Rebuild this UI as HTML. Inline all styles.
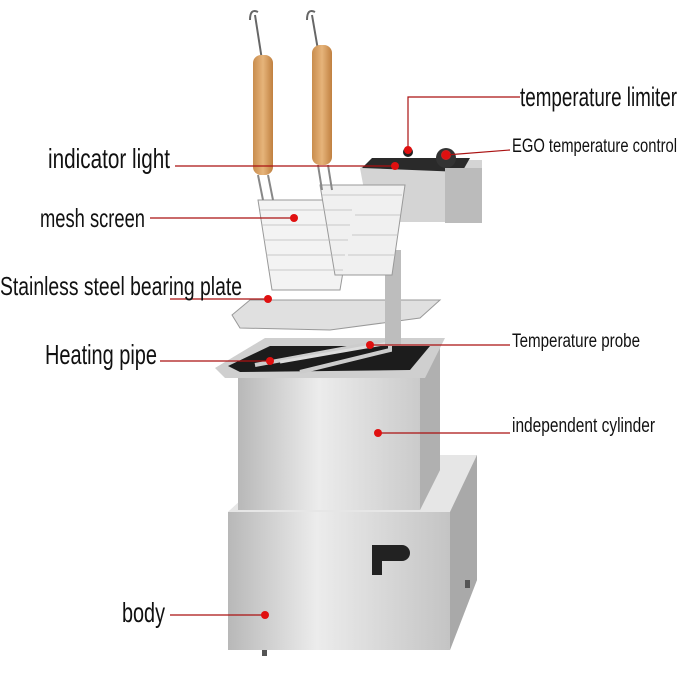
<!DOCTYPE html>
<html><head><style>
html,body{margin:0;padding:0;background:#fff;width:679px;height:678px;overflow:hidden}
svg text{font-family:"Liberation Sans",sans-serif;fill:#111}
</style></head><body>
<svg width="679" height="678" viewBox="0 0 679 678" xmlns="http://www.w3.org/2000/svg">
<defs>
<linearGradient id="steel" x1="0" x2="1"><stop offset="0" stop-color="#b8b8b8"/><stop offset="0.4" stop-color="#ececec"/><stop offset="1" stop-color="#c4c4c4"/></linearGradient>
<linearGradient id="wood" x1="0" x2="1"><stop offset="0" stop-color="#c98d4e"/><stop offset="0.5" stop-color="#e6b47a"/><stop offset="1" stop-color="#c08040"/></linearGradient>
</defs>
<polygon points="228,512 290,455 477,455 477,580 450,650 228,650" fill="#d8d8d8"/>
<polygon points="228,512 290,455 477,455 450,512" fill="#e6e6e6"/>
<rect x="228" y="512" width="222" height="138" fill="url(#steel)"/>
<polygon points="450,512 477,455 477,580 450,650" fill="#a9a9a9"/>
<path d="M372,545 h30 a8,8 0 0 1 0,16 h-20 v14 h-10 z" fill="#222"/>
<rect x="262" y="650" width="5" height="6" fill="#555"/><rect x="465" y="580" width="5" height="8" fill="#555"/>
<polygon points="238,375 440,345 440,470 420,510 238,510" fill="url(#steel)"/>
<polygon points="420,375 440,345 440,470 420,510" fill="#b0b0b0"/>
<polygon points="215,368 265,338 445,338 425,378 225,378" fill="#cfcfcf"/>
<polygon points="228,366 270,346 430,346 410,370 240,372" fill="#1c1c1c"/>
<path d="M255,365 L390,340 L390,350 L300,372" stroke="#ccc" stroke-width="4" fill="none"/>
<path d="M280,362 L395,342" stroke="#ddd" stroke-width="3"/>
<polygon points="232,315 250,300 440,300 420,318 330,330 240,328" fill="#e0e0e0" stroke="#999"/>
<rect x="385" y="250" width="16" height="95" fill="#bdbdbd"/>
<polygon points="360,168 372,160 482,160 482,222 370,222" fill="#d4d4d4"/>
<polygon points="362,168 372,158 470,158 462,172" fill="#2a2a2a"/>
<rect x="445" y="168" width="37" height="55" fill="#bbb"/>
<circle cx="446" cy="158" r="10" fill="#333"/><circle cx="446" cy="155" r="5" fill="#c22"/>
<circle cx="408" cy="152" r="5" fill="#222"/>
<g stroke="#999" stroke-width="1" fill="none">
<path d="M258,200 L355,200 L340,290 L272,290 Z" fill="#f3f3f3"/>
<path d="M320,185 L405,185 L392,275 L335,275 Z" fill="#f0f0f0"/>
</g>
<g stroke="#bbb" stroke-width="0.8">
<line x1="260" y1="210" x2="352" y2="210"/><line x1="262" y1="225" x2="350" y2="225"/><line x1="264" y1="240" x2="348" y2="240"/><line x1="266" y1="255" x2="345" y2="255"/><line x1="268" y1="270" x2="343" y2="270"/>
<line x1="322" y1="195" x2="402" y2="195"/><line x1="355" y1="215" x2="400" y2="215"/><line x1="352" y1="235" x2="398" y2="235"/><line x1="348" y1="255" x2="395" y2="255"/>
</g>
<path d="M250,20 q0,-12 8,-8 M255,15 L262,60 M307,20 q0,-12 8,-8 M312,15 L318,50" stroke="#666" stroke-width="2" fill="none"/>
<rect x="253" y="55" width="20" height="120" rx="8" fill="url(#wood)"/>
<rect x="312" y="45" width="20" height="120" rx="8" fill="url(#wood)"/>
<path d="M258,175 L263,200 M268,175 L273,200 M318,165 L322,190 M328,165 L332,190" stroke="#888" stroke-width="2"/>
<g stroke="#a11" stroke-width="1.2" fill="none">
<polyline points="520,97 408,97 408,150"/>
<line x1="446" y1="155" x2="510" y2="150"/>
<line x1="175" y1="166" x2="395" y2="166"/>
<line x1="150" y1="218" x2="294" y2="218"/>
<line x1="170" y1="299" x2="268" y2="299"/>
<line x1="160" y1="361" x2="270" y2="361"/>
<line x1="370" y1="345" x2="510" y2="345"/>
<line x1="378" y1="433" x2="510" y2="433"/>
<line x1="170" y1="615" x2="265" y2="615"/>
</g>
<g fill="#e01010">
<circle cx="408" cy="150" r="4"/><circle cx="446" cy="155" r="4"/><circle cx="395" cy="166" r="4"/><circle cx="294" cy="218" r="4"/><circle cx="268" cy="299" r="4"/><circle cx="270" cy="361" r="4"/><circle cx="370" cy="345" r="4"/><circle cx="378" cy="433" r="4"/><circle cx="265" cy="615" r="4"/>
</g>
<text x="520" y="106" font-size="27" textLength="157" lengthAdjust="spacingAndGlyphs">temperature limiter</text>
<text x="512" y="152" font-size="19" textLength="165" lengthAdjust="spacingAndGlyphs">EGO temperature control</text>
<text x="48" y="168" font-size="28" textLength="122" lengthAdjust="spacingAndGlyphs">indicator light</text>
<text x="40" y="227" font-size="26" textLength="105" lengthAdjust="spacingAndGlyphs">mesh screen</text>
<text x="0" y="295" font-size="26" textLength="242" lengthAdjust="spacingAndGlyphs">Stainless steel bearing plate</text>
<text x="45" y="364" font-size="28" textLength="112" lengthAdjust="spacingAndGlyphs">Heating pipe</text>
<text x="512" y="347" font-size="19" textLength="128" lengthAdjust="spacingAndGlyphs">Temperature probe</text>
<text x="512" y="432" font-size="20" textLength="143" lengthAdjust="spacingAndGlyphs">independent cylinder</text>
<text x="122" y="622" font-size="28" textLength="43" lengthAdjust="spacingAndGlyphs">body</text>
</svg>
</body></html>
